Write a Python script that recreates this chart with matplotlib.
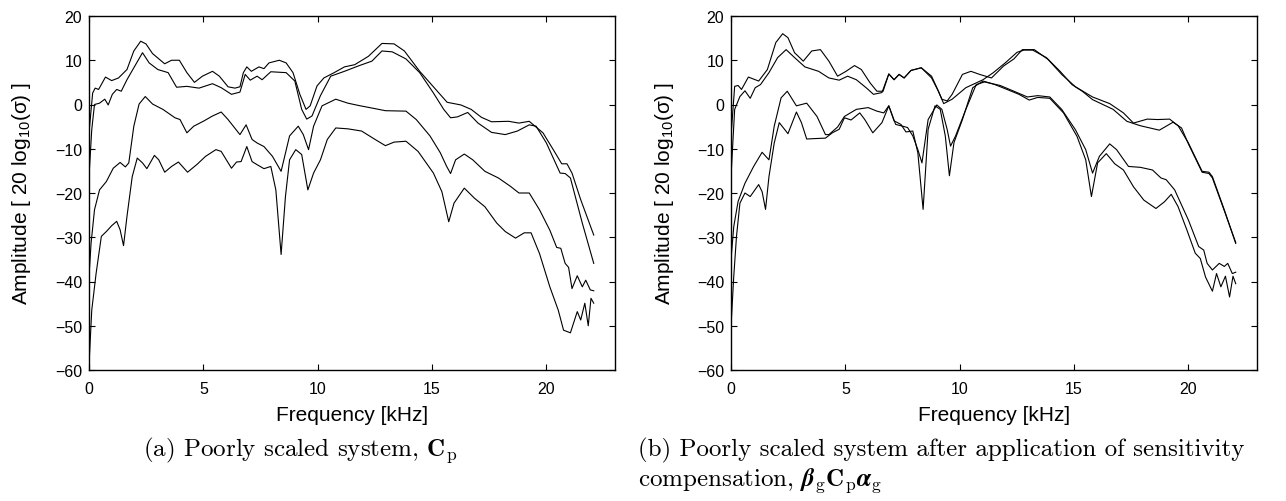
import matplotlib
matplotlib.use("Agg")
from matplotlib import pyplot as plt

# ---- data (frequency in kHz, amplitude in dB) ----

# (a) poorly scaled system
fa1 = [0.00, 0.16, 0.27, 0.42, 0.72, 0.99, 1.29, 1.66, 1.96, 2.26, 2.49, 2.78, 3.31, 3.61, 3.95,
       4.28, 4.61, 4.96, 5.40, 5.70, 6.08, 6.38, 6.60, 6.75, 6.90, 7.10, 7.43, 7.65, 7.87, 8.32,
       8.62, 8.92, 9.22, 9.49, 9.67, 9.97, 10.27, 10.72, 11.17, 11.62, 12.22, 12.81, 13.34, 13.79,
       14.46, 15.06, 15.66, 16.26, 16.71, 17.16, 17.60, 18.35, 18.80, 19.25, 19.85, 20.30, 20.67,
       20.90, 21.12, 21.50, 22.07]
a1 = [-6.4, 2.6, 3.7, 3.4, 6.2, 5.4, 6.0, 7.9, 12.1, 14.3, 13.7, 11.5, 9.2, 10.0, 10.0,
      7.2, 5.0, 6.4, 7.5, 6.4, 4.0, 3.7, 4.0, 7.2, 8.5, 7.5, 8.5, 8.1, 9.4, 10.0,
      9.4, 7.2, 2.3, -1.1, -0.3, 4.2, 6.0, 7.2, 8.5, 9.0, 10.9, 13.8, 13.7, 12.1,
      7.5, 4.0, 0.5, -0.1, -1.1, -2.9, -3.9, -3.8, -4.2, -3.8, -6.4, -10.2, -13.4,
      -13.4, -15.5, -21.5, -29.5]

fa2 = [0.00, 0.12, 0.24, 0.46, 0.69, 0.84, 1.02, 1.21, 1.41, 1.66, 1.96, 2.34, 2.63, 3.01, 3.46,
       3.83, 4.28, 4.81, 5.40, 5.78, 6.23, 6.60, 6.83, 7.05, 7.35, 7.57, 7.95, 8.62, 9.00, 9.30,
       9.52, 9.75, 10.12, 10.57, 11.17, 11.77, 12.37, 12.81, 13.26, 13.86, 14.46, 15.06, 15.51,
       15.81, 16.11, 16.56, 17.01, 17.60, 18.20, 18.73, 19.25, 19.55, 20.00, 20.60, 20.82, 21.05,
       21.57, 22.07]
a2 = [-16.3, -5.7, 0.0, 0.3, 1.2, -0.1, 2.3, 3.4, 3.0, 5.6, 8.3, 11.7, 9.4, 7.9, 7.2,
      3.9, 4.1, 3.7, 4.7, 3.8, 2.3, 2.8, 6.8, 5.5, 6.4, 5.6, 7.4, 7.2, 5.3, -1.1,
      -3.3, -2.6, 2.0, 6.4, 7.5, 8.7, 9.8, 12.1, 11.9, 10.3, 7.2, 2.6, -1.1,
      -3.0, -2.8, -1.8, -4.2, -6.3, -6.8, -6.0, -4.6, -4.9, -8.7, -15.5, -15.6, -16.6,
      -26.8, -35.9]

fa3 = [0.00, 0.09, 0.24, 0.46, 0.76, 1.06, 1.36, 1.59, 1.74, 1.96, 2.19, 2.46, 2.78, 3.23, 3.76,
       3.98, 4.28, 4.58, 5.03, 5.40, 5.78, 6.08, 6.60, 6.87, 7.13, 7.35, 7.65, 8.02, 8.40, 8.77,
       9.15, 9.37, 9.60, 9.82, 10.19, 10.79, 11.32, 11.77, 12.37, 12.96, 13.86, 14.31, 14.91,
       15.36, 15.63, 15.81, 16.03, 16.41, 16.78, 17.31, 17.90, 18.43, 18.80, 19.25, 19.70, 20.15,
       20.45, 20.63, 20.82, 20.97, 21.12, 21.35, 21.57, 21.72, 21.92, 22.07]
a3 = [-38.9, -31.4, -23.8, -19.3, -17.4, -14.4, -13.1, -14.1, -13.2, -4.9, 0.1, 1.8, 0.1, -1.1, -3.0,
      -3.4, -6.4, -4.9, -3.7, -2.6, -1.7, -3.4, -6.8, -4.6, -7.9, -8.7, -9.5, -11.7, -15.1, -7.1,
      -4.9, -6.8, -10.2, -4.9, -0.3, 1.2, 0.3, -0.2, -0.8, -1.4, -1.5, -3.4, -7.1,
      -10.9, -13.9, -15.6, -12.5, -11.2, -12.5, -15.1, -16.6, -18.5, -20.0, -20.0, -23.8, -28.4,
      -32.3, -32.5, -35.9, -36.8, -41.6, -38.7, -41.2, -39.7, -41.9, -42.1]

fa4 = [0.00, 0.12, 0.31, 0.54, 0.76, 0.99, 1.21, 1.36, 1.51, 1.66, 1.89, 2.11, 2.34, 2.53, 2.86,
       3.05, 3.31, 3.61, 3.91, 4.31, 4.73, 5.10, 5.55, 5.78, 6.23, 6.45, 6.65, 6.90, 7.13, 7.35,
       7.65, 7.95, 8.17, 8.40, 8.59, 8.77, 9.04, 9.30, 9.57, 9.82, 10.12, 10.42, 10.79, 11.32,
       11.92, 12.51, 12.96, 13.34, 13.86, 14.39, 15.06, 15.43, 15.73, 15.96, 16.41, 16.86, 17.31,
       17.83, 18.20, 18.65, 19.03, 19.33, 19.70, 20.15, 20.52, 20.75, 21.05, 21.35, 21.50, 21.68,
       21.83, 21.95, 22.07]
a4 = [-58.9, -46.5, -38.2, -29.8, -28.7, -27.4, -26.4, -28.3, -31.9, -25.3, -16.3, -12.1, -13.2, -14.5, -11.5,
      -12.5, -15.3, -14.0, -13.0, -15.3, -13.5, -11.7, -10.2, -10.6, -14.4, -13.0, -12.9, -9.5, -12.9, -13.6,
      -14.5, -14.0, -19.3, -33.9, -20.8, -12.5, -10.2, -11.3, -19.3, -15.5, -12.5, -7.9, -5.3, -5.5,
      -6.0, -7.9, -9.3, -8.5, -8.3, -10.6, -15.5, -19.7, -26.5, -22.3, -18.9, -21.2, -23.1,
      -26.8, -28.7, -30.2, -29.0, -29.0, -33.7, -41.2, -46.5, -51.0, -51.6, -46.8, -48.7, -44.9,
      -50.0, -43.8, -44.9]

# (b) after sensitivity compensation
fb1 = [0.00, 0.16, 0.31, 0.46, 0.76, 1.21, 1.59, 1.96, 2.26, 2.49, 2.78, 3.16, 3.53, 3.91, 4.28,
       4.66, 5.03, 5.40, 5.70, 6.08, 6.38, 6.65, 6.90, 7.13, 7.35, 7.57, 7.87, 8.32, 8.77, 9.00,
       9.22, 9.45, 9.67, 10.12, 10.49, 10.87, 11.39, 11.92, 12.37, 12.74, 13.26, 13.86, 14.46,
       15.06, 15.81, 16.56, 17.16, 17.60, 18.20, 18.65, 19.18, 19.55, 20.00, 20.60, 20.90, 21.05,
       21.57, 22.07]
b1 = [-7.2, 4.1, 4.3, 3.4, 6.2, 5.3, 7.9, 14.0, 16.0, 15.1, 11.7, 9.8, 12.1, 12.4, 9.8,
      6.4, 7.5, 8.8, 7.9, 4.9, 3.0, 3.0, 6.9, 5.6, 6.8, 6.0, 7.7, 8.3, 6.4, 3.8,
      1.2, 0.8, 2.3, 6.8, 7.5, 6.8, 6.0, 8.7, 10.3, 12.4, 12.4, 10.2, 6.8,
      4.0, 1.7, 0.2, -1.9, -4.2, -3.3, -3.4, -3.3, -4.8, -8.7, -15.1, -15.3, -16.3,
      -23.8, -31.4]

fb2 = [0.00, 0.16, 0.39, 0.61, 0.84, 1.06, 1.29, 1.66, 2.04, 2.41, 2.78, 3.23, 3.83, 4.28, 4.73,
       5.10, 5.48, 5.93, 6.23, 6.60, 6.90, 7.13, 7.35, 7.57, 7.87, 8.32, 8.77, 9.07, 9.30, 9.67,
       10.27, 11.02, 11.47, 11.99, 12.51, 12.81, 13.19, 13.79, 14.39, 14.91, 15.36, 15.81, 16.26,
       16.71, 17.31, 17.90, 18.73, 19.33, 19.70, 20.00, 20.60, 20.90, 21.05, 21.57, 22.07]
b2 = [-16.3, -1.1, 1.8, 3.1, 1.4, 3.8, 4.5, 7.2, 10.6, 12.4, 10.6, 8.5, 7.5, 6.0, 5.5,
      6.4, 5.6, 3.7, 2.3, 2.7, 6.9, 5.6, 6.8, 6.0, 7.7, 8.3, 6.0, 3.0, 0.2, 1.2,
      3.8, 5.6, 7.2, 9.4, 11.8, 12.3, 12.3, 10.6, 7.5, 4.5, 3.0, 1.1, 0.0,
      -1.1, -3.8, -4.8, -5.8, -4.0, -5.3, -8.9, -15.3, -15.6, -16.6, -24.0, -31.2]

fb3 = [0.00, 0.12, 0.31, 0.61, 0.99, 1.36, 1.66, 1.89, 2.19, 2.46, 2.86, 3.31, 3.76, 4.13, 4.28,
       4.66, 4.96, 5.48, 6.00, 6.38, 6.68, 6.90, 7.20, 7.50, 7.72, 7.95, 8.17, 8.35, 8.62, 9.00,
       9.22, 9.45, 9.60, 9.82, 10.27, 10.72, 11.09, 11.77, 12.37, 12.96, 13.41, 13.94, 14.46,
       15.06, 15.51, 15.81, 16.11, 16.56, 16.86, 17.38, 17.90, 18.43, 18.80, 19.03, 19.40, 20.00,
       20.45, 20.67, 20.82, 21.05, 21.35, 21.57, 21.72, 21.92, 22.07]
b3 = [-35.1, -27.6, -21.9, -17.8, -14.0, -10.8, -12.5, -4.9, 1.5, 3.0, -0.3, 0.3, -2.7, -6.8, -6.8,
      -5.1, -2.7, -1.1, -0.7, -1.5, -1.9, -0.3, -4.5, -4.9, -5.2, -7.1, -10.2, -13.2, -3.4, -0.1,
      -1.1, -5.6, -9.4, -7.1, -1.1, 4.5, 5.1, 4.3, 3.0, 1.7, 2.0, 1.7, -1.1,
      -5.7, -10.2, -15.5, -11.7, -8.9, -10.2, -14.0, -14.2, -14.8, -16.6, -17.0, -19.3, -26.1,
      -32.1, -32.9, -35.9, -37.4, -35.9, -36.6, -35.9, -38.2, -37.9]

fb4 = [0.00, 0.12, 0.24, 0.39, 0.61, 0.84, 1.21, 1.36, 1.51, 1.66, 1.89, 2.11, 2.34, 2.49, 2.86,
       3.08, 3.31, 3.68, 4.13, 4.43, 4.73, 4.96, 5.25, 5.63, 5.85, 6.20, 6.60, 6.90, 7.13, 7.43,
       7.65, 7.95, 8.17, 8.40, 8.62, 8.92, 9.15, 9.37, 9.55, 9.75, 10.12, 10.57, 11.02, 11.54,
       12.07, 12.59, 13.04, 13.41, 13.94, 14.54, 15.13, 15.51, 15.76, 16.03, 16.41, 16.78, 17.16,
       17.60, 18.05, 18.58, 18.95, 19.25, 19.55, 19.93, 20.30, 20.52, 20.75, 21.05, 21.23, 21.42,
       21.62, 21.80, 21.95, 22.07]
b4 = [-50.2, -38.9, -29.8, -22.3, -20.0, -20.8, -18.1, -19.7, -23.7, -16.3, -8.7, -4.1, -5.6, -6.6, -1.7,
      -4.1, -7.8, -7.7, -7.6, -6.4, -5.6, -3.0, -3.5, -1.9, -3.4, -6.4, -4.1, -0.3, -3.7, -4.5,
      -6.2, -6.0, -10.9, -23.7, -5.6, -0.3, -1.1, -7.1, -16.1, -8.6, -3.4, 3.8, 5.3, 4.5,
      3.4, 2.3, 1.0, 1.6, 1.4, -1.9, -7.2, -12.5, -20.8, -13.2, -11.1, -13.4, -14.8,
      -18.6, -21.6, -23.5, -22.0, -20.3, -23.1, -28.3, -33.6, -34.8, -39.0, -42.2, -38.2, -41.2,
      -38.8, -43.5, -38.8, -40.5]

x_ticks = [0, 5, 10, 15, 20]
y_ticks = [-60, -50, -40, -30, -20, -10, 0, 10, 20]

xlabel = "Frequency [kHz]"
ylabel = "Amplitude [ 20 log$_{10}$(σ) ]"
caption_a = r"(a) Poorly scaled system, $\mathbf{C}_{\mathrm{p}}$"
caption_b1 = "(b) Poorly scaled system after application of sensitivity"
caption_b2 = (r"compensation, $\boldsymbol{\beta}_{\mathrm{g}}\mathbf{C}_{\mathrm{p}}"
              r"\boldsymbol{\alpha}_{\mathrm{g}}$")

W, H = 1286, 502


def fx(px):
    return px / W


def fy(py):
    return 1 - py / H


def setup_axes(ax):
    ax.set_xlim(0, 23)
    ax.set_ylim(-60, 20)
    ax.set_xticks(x_ticks)
    ax.set_yticks(y_ticks)
    ax.tick_params(direction="in", top=True, right=True, length=4.5, width=0.8,
                   labelsize=11.5)
    ax.tick_params(axis="x", pad=8)
    ax.tick_params(axis="y", pad=5)
    for s in ax.spines.values():
        s.set_linewidth(1.0)


def main():
    plt.rcParams["font.family"] = ["Liberation Sans", "DejaVu Sans"]
    plt.rcParams["mathtext.fontset"] = "custom"
    plt.rcParams["mathtext.rm"] = "Liberation Sans"
    plt.rcParams["mathtext.it"] = "Liberation Sans:italic"
    plt.rcParams["mathtext.bf"] = "Liberation Sans:bold"

    fig = plt.figure(figsize=(W / 100, H / 100), dpi=100)

    ax_a = fig.add_axes([fx(89), fy(371), fx(526), 354 / H])
    ax_b = fig.add_axes([fx(731), fy(371), fx(526), 354 / H])

    for f, v in [(fa1, a1), (fa2, a2), (fa3, a3), (fa4, a4)]:
        ax_a.plot(f, v, color="black", lw=0.8)
    for f, v in [(fb1, b1), (fb2, b2), (fb3, b3), (fb4, b4)]:
        ax_b.plot(f, v, color="black", lw=0.8)

    for ax, left in [(ax_a, 89), (ax_b, 731)]:
        setup_axes(ax)
        fig.text(fx(left + 263), fy(421), xlabel, ha="center", va="baseline", fontsize=15)
        fig.text(fx(left - 67), fy(194), ylabel, ha="center", va="center",
                 rotation=90, fontsize=15)

    cap = dict(fontfamily="cmr10", math_fontfamily="cm", fontsize=18, va="baseline")
    fig.text(fx(300), fy(456), caption_a, ha="center", **cap)
    fig.text(fx(638), fy(456), caption_b1, ha="left", **cap)
    fig.text(fx(638), fy(486), caption_b2, ha="left", **cap)

    fig.savefig("out.png", dpi=100)


if __name__ == '__main__':
    main()
